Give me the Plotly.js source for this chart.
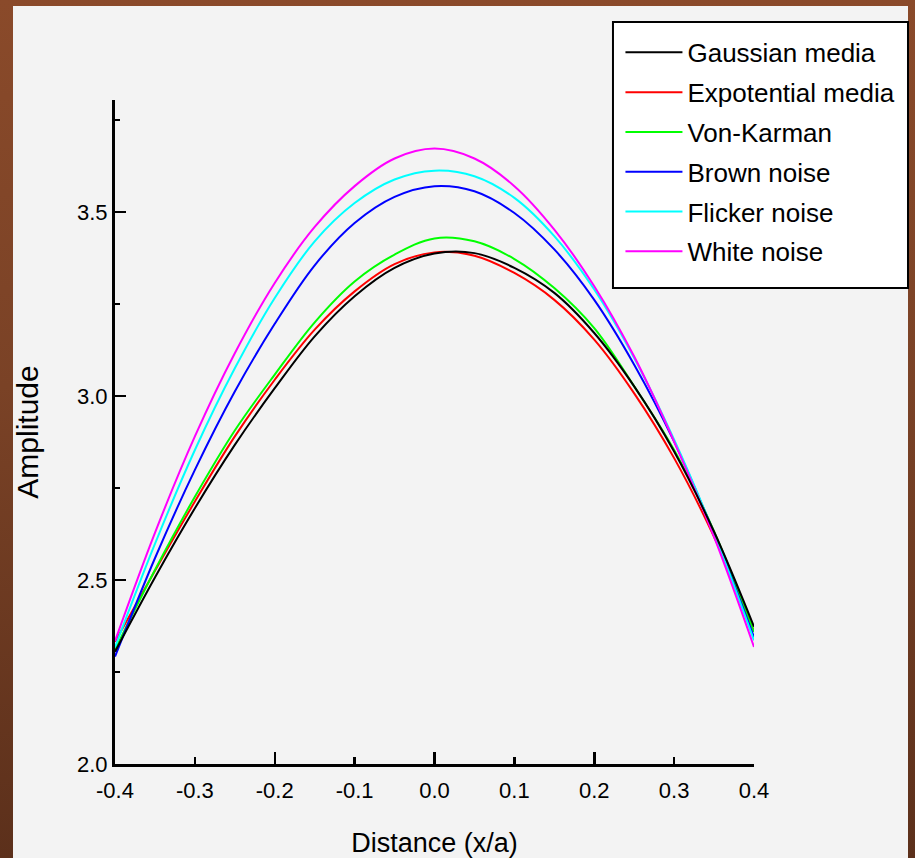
<!DOCTYPE html>
<html>
<head>
<meta charset="utf-8">
<script src="https://cdn.plot.ly/plotly-3.0.1.min.js"></script>
<style>
  html, body { margin: 0; padding: 0; }
  body {
    width: 915px; height: 858px; overflow: hidden; position: relative;
    background: linear-gradient(180deg, #8a4a2a 0%, #7a4226 45%, #5c301b 100%);
  }
  #panel { position: absolute; left: 13px; top: 6px; width: 895px; height: 852px; background: #f3f3f3; }
  #chart { position: absolute; left: 0; top: 0; width: 915px; height: 858px; }
</style>
</head>
<body>
<div id="panel"></div>
<div id="chart"></div>
<script>
const distance = [-0.4, -0.35, -0.3, -0.25, -0.2, -0.15, -0.1, -0.05, 0, 0.05, 0.1, 0.15, 0.2, 0.25, 0.3, 0.35, 0.4];

const gaussianMedia   = [2.305, 2.507, 2.695, 2.867, 3.021, 3.162, 3.271, 3.348, 3.387, 3.388, 3.348, 3.280, 3.171, 3.026, 2.849, 2.631, 2.373];
const expotentialMedia= [2.332, 2.525, 2.713, 2.890, 3.044, 3.180, 3.284, 3.358, 3.390, 3.381, 3.334, 3.261, 3.153, 3.007, 2.831, 2.617, 2.360];
const vonKarman       = [2.310, 2.527, 2.726, 2.906, 3.058, 3.200, 3.311, 3.384, 3.428, 3.420, 3.372, 3.293, 3.184, 3.026, 2.853, 2.632, 2.359];
const brownNoise      = [2.292, 2.559, 2.799, 3.012, 3.196, 3.355, 3.470, 3.541, 3.570, 3.556, 3.497, 3.398, 3.261, 3.085, 2.876, 2.626, 2.345];
const flickerNoise    = [2.317, 2.598, 2.853, 3.075, 3.266, 3.420, 3.524, 3.588, 3.612, 3.597, 3.538, 3.434, 3.289, 3.103, 2.881, 2.626, 2.336];
const whiteNoise      = [2.334, 2.628, 2.890, 3.116, 3.307, 3.459, 3.570, 3.645, 3.672, 3.645, 3.570, 3.452, 3.298, 3.107, 2.876, 2.617, 2.318];

const seriesNames  = ["Gaussian media", "Expotential media", "Von-Karman", "Brown noise", "Flicker noise", "White noise"];
const seriesValues = [gaussianMedia, expotentialMedia, vonKarman, brownNoise, flickerNoise, whiteNoise];
const seriesColors = ["#000000", "#ff0000", "#00ff00", "#0000ff", "#00ffff", "#ff00ff"];

const xTickLabels = ["-0.4", "-0.3", "-0.2", "-0.1", "0.0", "0.1", "0.2", "0.3", "0.4"];
const yTickLabels = ["2.0", "2.5", "3.0", "3.5"];

const FONT = "'Liberation Sans', Arial, sans-serif";

const traces = seriesNames.map((name, i) => ({
  type: "scatter",
  mode: "lines",
  name: name,
  legendgroup: "g" + i,
  x: distance,
  y: seriesValues[i],
  line: { color: seriesColors[i], width: 2, shape: "spline", smoothing: 1 },
  xaxis: i === 0 ? "x2" : "x",
  yaxis: "y"
}));

const layout = {
  width: 915,
  height: 858,
  paper_bgcolor: "rgba(0,0,0,0)",
  plot_bgcolor: "rgba(0,0,0,0)",
  margin: { l: 115, r: 161, t: 100, b: 94, pad: 0 },
  font: { family: FONT, color: "#000" },
  showlegend: true,
  legend: {
    x: 0.791, xanchor: "left",
    y: 1.107, yanchor: "top",
    bgcolor: "rgba(0,0,0,0)",
    borderwidth: 0,
    font: { family: FONT, size: 26, color: "#000" },
    itemwidth: 57,
    tracegroupgap: 3
  },
  shapes: [{
    type: "rect", xref: "paper", yref: "paper",
    x0: 0.7793, x1: 1.241, y0: 0.7169, y1: 1.1175,
    line: { color: "#000", width: 2 },
    fillcolor: "#ffffff",
    layer: "above"
  }],
  xaxis: {
    range: [-0.4, 0.4],
    tickmode: "array",
    tickvals: xTickLabels.map(Number),
    ticktext: xTickLabels,
    ticks: "inside",
    ticklen: 7,
    tickwidth: 2.5,
    tickcolor: "#000",
    showline: true,
    linecolor: "#000",
    linewidth: 3,
    showgrid: false,
    zeroline: false,
    ticklabelstandoff: 5,
    tickfont: { family: FONT, size: 22, color: "#000" },
    title: { text: "Distance (x/a)", font: { family: FONT, size: 27, color: "#000" }, standoff: 33 },
    automargin: false
  },
  xaxis2: {
    overlaying: "x",
    matches: "x",
    range: [-0.4, 0.4],
    side: "bottom",
    dtick: 0.2,
    tick0: -0.4,
    ticks: "inside",
    ticklen: 12,
    tickwidth: 2.5,
    tickcolor: "#000",
    showticklabels: false,
    showline: false,
    showgrid: false,
    zeroline: false
  },
  yaxis: {
    range: [2.0, 3.804],
    tickmode: "array",
    tickvals: yTickLabels.map(Number),
    ticktext: yTickLabels,
    ticks: "inside",
    ticklen: 11,
    tickwidth: 2.5,
    tickcolor: "#000",
    minor: { dtick: 0.25, tick0: 2.0, ticks: "inside", ticklen: 5, tickwidth: 2.5, tickcolor: "#000" },
    showline: true,
    linecolor: "#000",
    linewidth: 3,
    showgrid: false,
    zeroline: false,
    tickfont: { family: FONT, size: 22, color: "#000" },
    title: { text: "Amplitude", font: { family: FONT, size: 30, color: "#000" }, standoff: 30 },
    automargin: false
  }
};

Plotly.newPlot("chart", traces, layout, { displayModeBar: false, staticPlot: true });
</script>
</body>
</html>
